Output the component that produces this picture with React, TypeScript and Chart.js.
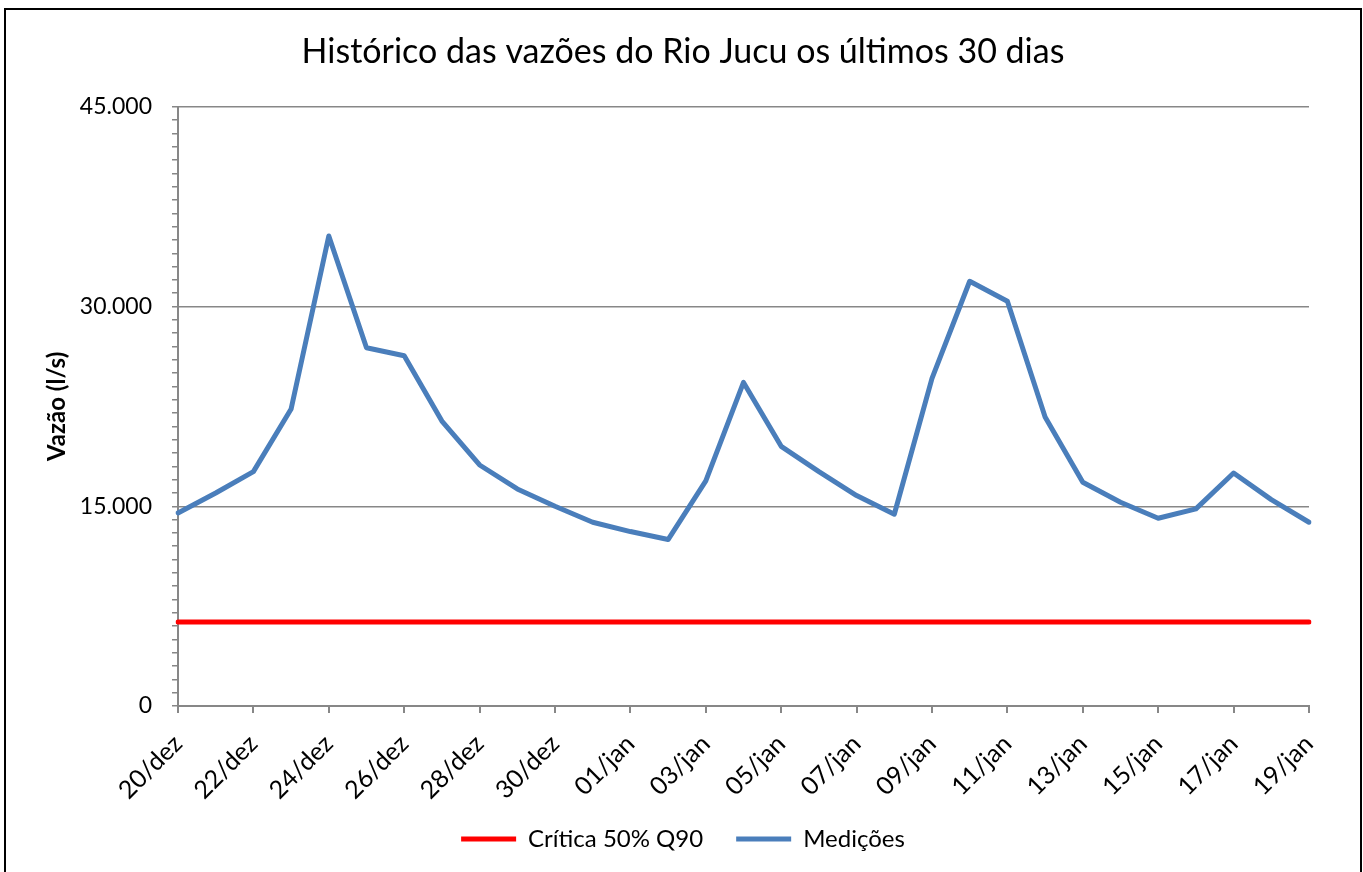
import React, { useEffect, useRef } from "react";
import { Chart, registerables } from "chart.js";

Chart.register(...registerables);

const TITLE = "Histórico das vazões do Rio Jucu os últimos 30 dias";
const Y_TITLE = "Vazão (l/s)";

const categories = [
  "20/dez", "21/dez", "22/dez", "23/dez", "24/dez", "25/dez", "26/dez", "27/dez",
  "28/dez", "29/dez", "30/dez", "31/dez", "01/jan", "02/jan", "03/jan", "04/jan",
  "05/jan", "06/jan", "07/jan", "08/jan", "09/jan", "10/jan", "11/jan", "12/jan",
  "13/jan", "14/jan", "15/jan", "16/jan", "17/jan", "18/jan", "19/jan",
];

const critica = [
  6300, 6300, 6300, 6300, 6300, 6300, 6300, 6300, 6300, 6300, 6300, 6300, 6300, 6300, 6300, 6300,
  6300, 6300, 6300, 6300, 6300, 6300, 6300, 6300, 6300, 6300, 6300, 6300, 6300, 6300, 6300,
];

const medicoes = [
  14500, 16000, 17600, 22300, 35300, 26900, 26300, 21400, 18100, 16300, 15000, 13800,
  13100, 12500, 16900, 24300, 19500, 17600, 15800, 14400, 24600, 31900, 30400, 21700,
  16800, 15300, 14100, 14800, 17500, 15500, 13800,
];

const Y_MIN = 0;
const Y_MAX = 45000;
const Y_MAJOR = 15000;
const Y_MINOR = 1000;

const FONT = "Lato, 'Open Sans', sans-serif";
const AXIS_GRAY = "#878787";

export default function App() {
  const ref = useRef<HTMLCanvasElement | null>(null);

  useEffect(() => {
    if (!ref.current) return;
    const fmt = (v: number) => v.toLocaleString("pt-BR");
    const chart = new Chart(ref.current, {
      type: "line",
      data: {
        labels: categories,
        datasets: [
          {
            label: "Crítica 50% Q90",
            data: critica,
            borderColor: "#ff0000",
            backgroundColor: "#ff0000",
            borderWidth: 5,
            borderCapStyle: "round",
            pointRadius: 0,
            tension: 0,
          },
          {
            label: "Medições",
            data: medicoes,
            borderColor: "#4a7ebb",
            backgroundColor: "#4a7ebb",
            borderWidth: 5,
            borderCapStyle: "round",
            borderJoinStyle: "round",
            pointRadius: 0,
            tension: 0,
          },
        ],
      },
      options: {
        responsive: false,
        animation: false,
        layout: { padding: { left: 0, right: 0, top: 0, bottom: 29 } },
        plugins: {
          title: {
            display: true,
            text: TITLE,
            color: "#000",
            font: { family: FONT, size: 34, weight: "normal" },
            padding: { top: 22, bottom: 34 },
          },
          legend: {
            position: "bottom",
            labels: {
              color: "#000",
              font: { family: FONT, size: 24 },
              usePointStyle: true,
              pointStyle: "line",
              pointStyleWidth: 55,
              padding: 33,
            },
          },
          tooltip: { enabled: false },
        },
        scales: {
          x: {
            type: "category",
            offset: false,
            grid: {
              drawOnChartArea: false,
              drawTicks: true,
              tickLength: 7,
              color: "rgba(0,0,0,0)",
              tickColor: (ctx: any) => (ctx.index % 2 === 0 ? AXIS_GRAY : "rgba(0,0,0,0)"),
              lineWidth: 2,
            },
            border: { display: true, color: AXIS_GRAY, width: 2 },
            ticks: {
              autoSkip: false,
              minRotation: 45,
              maxRotation: 45,
              color: "#000",
              font: { family: FONT, size: 25 },
              padding: 16,
              callback: (_v: any, i: number) => (i % 2 === 0 ? categories[i] : ""),
            },
            afterFit: (scale: any) => {
              scale.height = 88;
              scale.paddingLeft = 0;
              scale.paddingRight = 51;
              // let the rotated labels run past the fixed axis box instead of being clipped
              scale._computeLabelArea = () => undefined;
            },
          },
          y: {
            min: Y_MIN,
            max: Y_MAX,
            grid: {
              drawTicks: true,
              tickLength: 6,
              color: (ctx: any) =>
                ctx.tick && ctx.tick.value % Y_MAJOR === 0 && ctx.tick.value !== 0
                  ? AXIS_GRAY
                  : "rgba(0,0,0,0)",
              tickColor: AXIS_GRAY,
              lineWidth: 1.5,
            },
            border: { display: true, color: AXIS_GRAY, width: 2 },
            ticks: {
              stepSize: Y_MINOR,
              autoSkip: false,
              color: "#000",
              font: { family: FONT, size: 23 },
              padding: 20,
              callback: (v: any) => (Number(v) % Y_MAJOR === 0 ? fmt(Number(v)) : ""),
            },
            title: {
              display: true,
              text: Y_TITLE,
              color: "#000",
              font: { family: FONT, size: 24, weight: "bold" },
              padding: { top: 37, bottom: 0 },
            },
            afterFit: (scale: any) => {
              scale.width = 172;
            },
          },
        },
      },
    });
    return () => chart.destroy();
  }, []);

  return (
    <div
      style={{
        position: "fixed",
        left: 4,
        top: 8,
        width: 1358,
        height: 882,
        boxSizing: "border-box",
        borderTop: "2px solid #000",
        borderLeft: "2px solid #000",
        borderRight: "2px solid #000",
        background: "#fff",
      }}
    >
      <canvas ref={ref} width={1354} height={880} style={{ display: "block", width: 1354, height: 880 }} />
    </div>
  );
}
